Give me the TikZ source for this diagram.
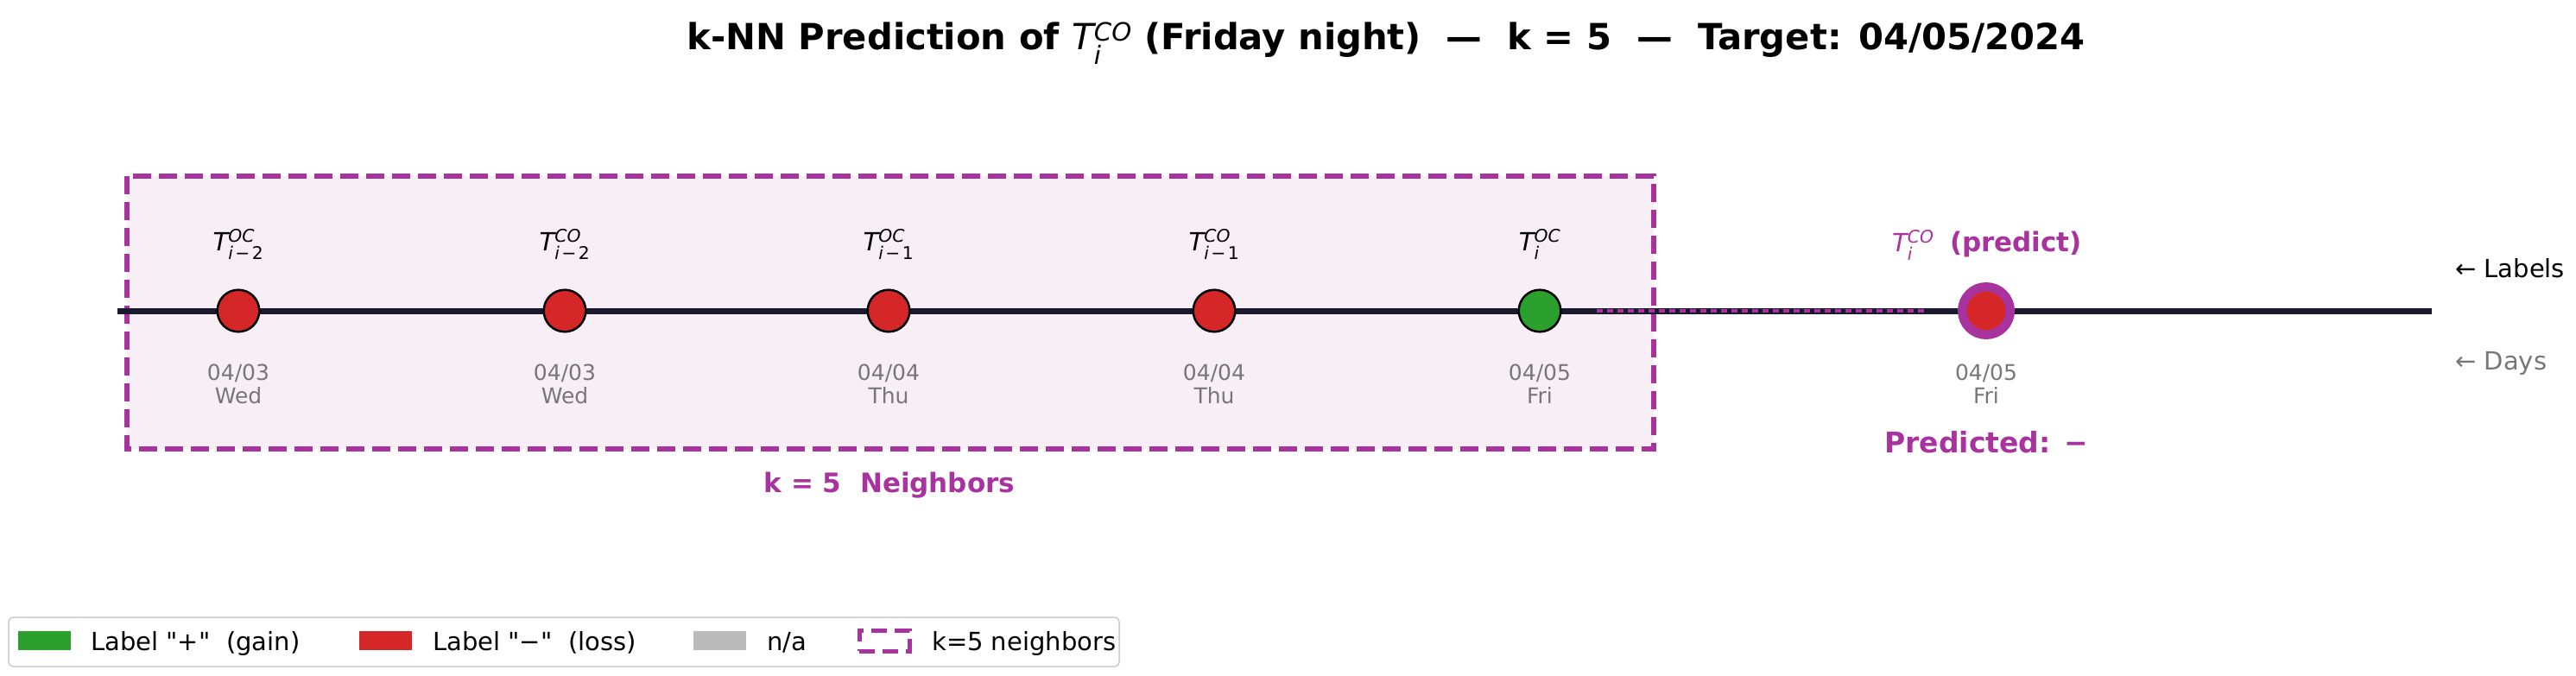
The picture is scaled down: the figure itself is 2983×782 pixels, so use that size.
\documentclass[tikz,border=0pt]{standalone}
\usepackage{fontspec}
\usepackage{amsmath}
\setmainfont{DejaVu Sans}
\definecolor{kpurple}{HTML}{A8329E}
\definecolor{kfill}{HTML}{F8EEF6}
\definecolor{kred}{HTML}{D62728}
\definecolor{kgreen}{HTML}{2CA02C}
\definecolor{kgray}{HTML}{BBBBBB}
\definecolor{kline}{HTML}{1A1A2E}
\definecolor{kdate}{HTML}{777777}
\definecolor{kborder}{HTML}{CCCCCC}
\newcommand{\kfs}[1]{\fontsize{#1}{#1}\selectfont}
\newcommand{\Tm}[2]{{\mdseries\itshape T}$^{\text{\mdseries\itshape #1}}_{\text{\mdseries #2}}$}
\newcommand{\sub}[1]{\itshape i\upshape\kern0.12em−\kern0.12em#1}
\begin{document}
\begin{tikzpicture}[x=1pt,y=-1pt,
  dotnode/.style={circle, minimum size=48.6pt, inner sep=0pt, draw=black, line width=2.5pt},
  predot/.style={circle, minimum size=55.5pt, inner sep=0pt, draw=kpurple, fill=kred, line width=10.5pt},
  toplab/.style={font=\kfs{29}, anchor=base, inner sep=0pt},
  datelab/.style={font=\kfs{25}, text=kdate, anchor=base, inner sep=0pt},
  sidelab/.style={font=\kfs{29}, anchor=base west, inner sep=0pt},
  legtext/.style={font=\kfs{29}, anchor=base west, inner sep=0pt},
  timeline/.style={draw=kline, line width=7pt},
  predline/.style={draw=kpurple, line width=4pt, dash pattern=on 7pt off 5pt},
  nbrbox/.style={draw=kpurple, fill=kfill, line width=6pt, dash pattern=on 21pt off 9pt},
  patch/.style={inner sep=0pt, minimum width=61pt, minimum height=22pt}
]
\useasboundingbox (0,0) rectangle (2983,782);

% title
\node[font=\kfs{41.7}\bfseries, anchor=base, inner sep=0pt] (title) at (1605,57)
  {k-NN Prediction of \Tm{CO}{\itshape i} (Friday night)\ \ —\ \ k = 5\ \ —\ \ Target: 04/05/2024};

% neighbour box
\draw[nbrbox] (147,204) rectangle (1915,520);
\node[font=\kfs{31}\bfseries, text=kpurple, anchor=base, inner sep=0pt] (klab) at (1030,570) {k = 5\ \ Neighbors};

% timeline
\coordinate (tl0) at (136,360);
\coordinate (tl1) at (2816,360);
\draw[timeline] (tl0) -- (tl1);
\coordinate (ds) at (1849,360);
\coordinate (de) at (2232,360);
\draw[predline] (ds) -- (de);

% dots
\node[dotnode, fill=kred] (d1) at (276,360) {};
\node[dotnode, fill=kred] (d2) at (654,360) {};
\node[dotnode, fill=kred] (d3) at (1029,360) {};
\node[dotnode, fill=kred] (d4) at (1406,360) {};
\node[dotnode, fill=kgreen] (d5) at (1783,360) {};
\node[predot] (dp) at (2300,360) {};

% top labels
\node[toplab] (l1) at (276,290) {\Tm{OC}{\sub{2}}};
\node[toplab] (l2) at (654,290) {\Tm{CO}{\sub{2}}};
\node[toplab] (l3) at (1029,290) {\Tm{OC}{\sub{1}}};
\node[toplab] (l4) at (1406,290) {\Tm{CO}{\sub{1}}};
\node[toplab] (l5) at (1783,290) {\Tm{OC}{\itshape i}};
\node[toplab, text=kpurple] (lp) at (2301,291) {\Tm{CO}{\itshape i}\ \ {\kfs{31}\bfseries (predict)}};

% dates
\node[datelab] (t1) at (276,440) {04/03};
\node[datelab] (w1) at (276,467) {Wed};
\node[datelab] (t2) at (654,440) {04/03};
\node[datelab] (w2) at (654,467) {Wed};
\node[datelab] (t3) at (1029,440) {04/04};
\node[datelab] (w3) at (1029,467) {Thu};
\node[datelab] (t4) at (1406,440) {04/04};
\node[datelab] (w4) at (1406,467) {Thu};
\node[datelab] (t5) at (1783,440) {04/05};
\node[datelab] (w5) at (1783,467) {Fri};
\node[datelab] (tp) at (2300,440) {04/05};
\node[datelab] (wp) at (2300,467) {Fri};

\node[font=\kfs{33}\bfseries, text=kpurple, anchor=base, inner sep=0pt] (pred) at (2300,524) {Predicted: −};

% side labels
\node[sidelab] (sl) at (2843,321) {← Labels};
\node[sidelab, text=kdate] (sd) at (2843,428) {← Days};

% legend
\draw[draw=kborder, fill=white, line width=1.5pt, rounded corners=5pt] (10,715) rectangle (1296,772);
\node[patch, fill=kgreen] (pg) at (51.5,742) {};
\node[legtext] (tg) at (105,753) {Label \textquotedbl+\textquotedbl\ \ (gain)};
\node[patch, fill=kred] (pr) at (446,742) {};
\node[legtext] (tr) at (501,753) {Label \textquotedbl−\textquotedbl\ \ (loss)};
\node[patch, fill=kgray] (pn) at (833,742) {};
\node[legtext] (tn) at (888,753) {n/a};
\node[patch, draw=kpurple, line width=5pt, dash pattern=on 18pt off 9pt, minimum width=58pt, minimum height=24pt] (pk) at (1024,742) {};
\node[legtext] (tk) at (1079,753) {k=5 neighbors};
\end{tikzpicture}
\end{document}
